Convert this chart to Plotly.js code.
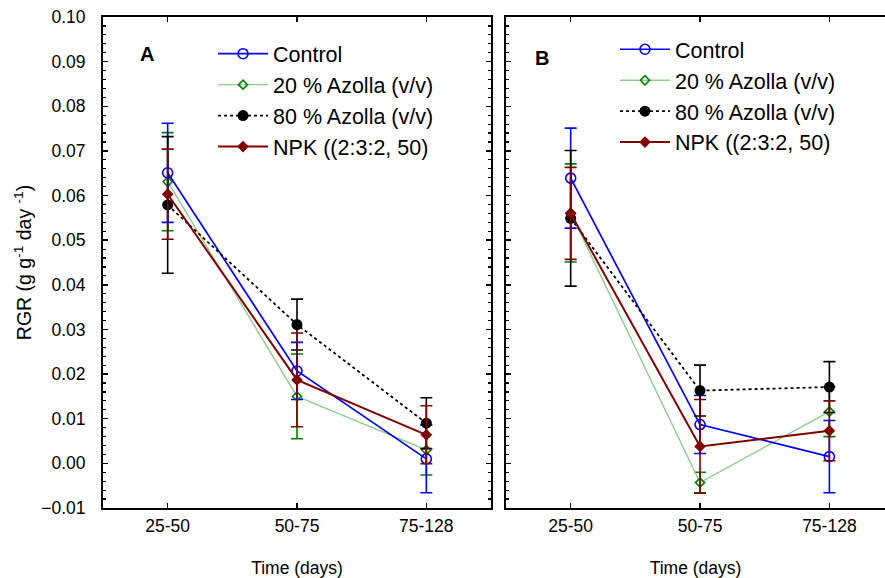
<!DOCTYPE html>
<html>
<head>
<meta charset="utf-8">
<script src="https://cdn.plot.ly/plotly-3.0.1.min.js"></script>
<style>
  html, body { margin: 0; padding: 0; background: #fff; }
  #chart { width: 885px; height: 578px; }
</style>
</head>
<body>
<div id="chart"></div>
<script>
// sampling periods
var periods = ["25-50", "50-75", "75-128"];
var seriesNames = ["Control", "20 % Azolla (v/v)", "80 % Azolla (v/v)", "NPK ((2:3:2, 50)"];

// panel A : RGR means and error bars
var ctrlA = [0.0651, 0.0207, 0.0010];
var ctrlAErr = [0.0111, 0.0064, 0.0076];
var azo20A = [0.0631, 0.0150, 0.0030];
var azo20AErr = [0.0110, 0.0095, 0.0056];
var azo80A = [0.0579, 0.0311, 0.0090];
var azo80AErr = [0.0153, 0.0057, 0.0057];
var npkA = [0.0603, 0.0187, 0.0064];
var npkAErr = [0.0101, 0.0105, 0.0065];

// panel B
var ctrlB = [0.0639, 0.0087, 0.0015];
var ctrlBErr = [0.0112, 0.0065, 0.0081];
var azo20B = [0.0561, -0.0043, 0.0116];
var azo20BErr = [0.0110, 0.0023, 0.0056];
var azo80B = [0.0549, 0.0163, 0.0171];
var azo80BErr = [0.0152, 0.0057, 0.0057];
var npkB = [0.0560, 0.0038, 0.0073];
var npkBErr = [0.0103, 0.0105, 0.0067];

var font = "Arial, 'Liberation Sans', sans-serif";

// one style per treatment
var styles = [
  {line: {color: "#0000ff", width: 1.7}, marker: {symbol: "circle-open", size: 10, color: "#0000ff", line: {width: 1.6}}, err: "#0000ff"},
  {line: {color: "#8fcc8f", width: 1.4}, marker: {symbol: "diamond-open", size: 7, color: "#008000", line: {width: 1.6}}, err: "#008000"},
  {line: {color: "#000000", width: 1.8, dash: "dot"}, marker: {symbol: "circle", size: 11, color: "#000000"}, err: "#000000"},
  {line: {color: "#800000", width: 2}, marker: {symbol: "diamond", size: 9, color: "#800000"}, err: "#800000"}
];

function makeTrace(i, ys, errs, xa, ya, leg) {
  var s = styles[i];
  return {
    type: "scatter", mode: "lines+markers",
    name: seriesNames[i], legendrank: i + 1,
    x: periods, y: ys,
    xaxis: xa, yaxis: ya, legend: leg,
    line: s.line, marker: s.marker,
    error_y: {type: "data", array: errs, visible: true, color: s.err, thickness: 1.6, width: 6}
  };
}

// green drawn first so the other series sit over it
var data = [
  makeTrace(1, azo20A, azo20AErr, "x", "y", "legend"),
  makeTrace(0, ctrlA, ctrlAErr, "x", "y", "legend"),
  makeTrace(2, azo80A, azo80AErr, "x", "y", "legend"),
  makeTrace(3, npkA, npkAErr, "x", "y", "legend"),
  makeTrace(1, azo20B, azo20BErr, "x2", "y2", "legend2"),
  makeTrace(0, ctrlB, ctrlBErr, "x2", "y2", "legend2"),
  makeTrace(2, azo80B, azo80BErr, "x2", "y2", "legend2"),
  makeTrace(3, npkB, npkBErr, "x2", "y2", "legend2")
];

var xBase = {
  type: "category", showline: true, linecolor: "#000", linewidth: 2,
  mirror: "ticks", ticks: "inside", ticklen: 5, tickwidth: 1.5, tickcolor: "#000",
  showgrid: false, zeroline: false, fixedrange: true,
  tickfont: {family: font, size: 17.5, color: "#000"},
  ticklabelstandoff: 1,
  title: {text: "Time (days)", font: {family: font, size: 17.5, color: "#000"}, standoff: 27}
};

var yBase = {
  range: [-0.01, 0.1], dtick: 0.01, tickformat: ".2f",
  showline: true, linecolor: "#000", linewidth: 2,
  ticks: "inside", ticklen: 5, tickwidth: 1.5, tickcolor: "#000",
  minor: {dtick: 0.002, ticks: "inside", ticklen: 3, tickwidth: 1.2, tickcolor: "#000"},
  showgrid: false, zeroline: false,
  tickfont: {family: font, size: 17.5, color: "#000"}
};

var legBase = {
  xanchor: "left", yanchor: "top",
  bgcolor: "rgba(0,0,0,0)", font: {family: font, size: 21.5, color: "#000"},
  itemwidth: 50, tracegroupgap: 0
};

var layout = {
  width: 885, height: 578,
  margin: {l: 103, r: 0, t: 17, b: 70},
  paper_bgcolor: "#fff", plot_bgcolor: "#fff",
  font: {family: font, color: "#000"},
  xaxis: Object.assign({}, xBase, {domain: [0, 388 / 782], range: [-0.5, 2.5]}),
  yaxis: Object.assign({}, yBase, {
    mirror: "ticks", ticklabelstandoff: 12,
    title: {text: "RGR (g g<sup>-1</sup> day <sup>-1</sup>)", font: {family: font, size: 19.5, color: "#000"}, standoff: 4}
  }),
  xaxis2: Object.assign({}, xBase, {domain: [403 / 782, 1], range: [-0.5, 2.43], anchor: "y2"}),
  yaxis2: Object.assign({}, yBase, {mirror: false, showticklabels: false, anchor: "x2"}),
  legend: Object.assign({}, legBase, {x: 0.1407, y: 0.967}),
  legend2: Object.assign({}, legBase, {x: 0.6547, y: 0.976}),
  annotations: [
    {text: "<b>A</b>", xref: "x domain", yref: "y domain", x: 0.113, y: 0.925,
     xanchor: "center", yanchor: "middle", showarrow: false, font: {family: font, size: 20, color: "#000"}},
    {text: "<b>B</b>", xref: "x2 domain", yref: "y2 domain", x: 0.095, y: 0.917,
     xanchor: "center", yanchor: "middle", showarrow: false, font: {family: font, size: 20, color: "#000"}}
  ],
  showlegend: true
};

Plotly.newPlot("chart", data, layout, {displayModeBar: false, staticPlot: true});
</script>
</body>
</html>
